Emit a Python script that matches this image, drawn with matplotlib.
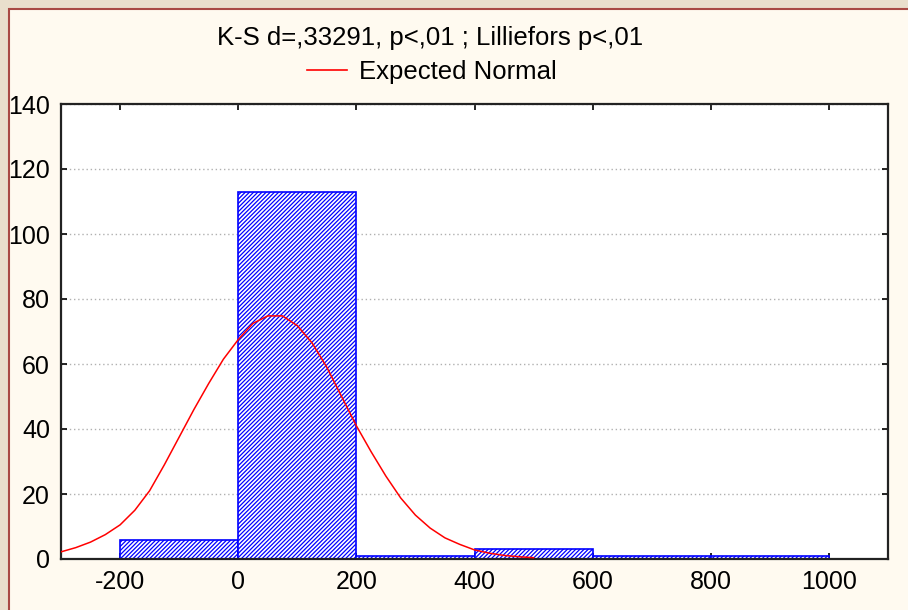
import matplotlib
matplotlib.use('Agg')
import matplotlib.pyplot as plt
from matplotlib.patches import Rectangle
from matplotlib.lines import Line2D

# histogram bins and counts
bin_left = [-200, 0, 200, 400, 600, 800]
bin_width = 200
counts = [6, 113, 1, 3, 1, 1]

# expected normal curve
curve_x = [-300, -275, -250, -225, -200, -175, -150, -125, -100, -75, -50, -25,
           0, 25, 50, 75, 100, 125, 150, 175, 200, 225, 250, 275, 300, 325,
           350, 375, 400, 425, 450, 475, 500]
curve_y = [2.2, 3.5, 5.2, 7.5, 10.5, 15, 21, 29, 37.5, 46, 54, 61.5,
           67.5, 72.5, 74.8, 74.8, 71.8, 66.5, 59, 50, 41, 33, 25.5, 18.8, 13.5, 9.5,
           6.5, 4.5, 2.8, 1.8, 1.1, 0.7, 0.4]

xticks = [-200, 0, 200, 400, 600, 800, 1000]
yticks = [0, 20, 40, 60, 80, 100, 120, 140]
title = "K-S d=,33291, p<,01 ; Lilliefors p<,01"

plt.rcParams['font.family'] = ['Liberation Sans', 'DejaVu Sans']
plt.rcParams['hatch.linewidth'] = 0.9
plt.rcParams['axes.unicode_minus'] = False

W, H = 908, 610
fig = plt.figure(figsize=(W / 100, H / 100), dpi=100)
fig.set_facecolor('#e9dfcc')

# cream panel with dark red border
fig.patches.append(Rectangle((9 / W, -0.1), 1.1, (H - 9) / H + 0.1,
                             transform=fig.transFigure, facecolor='#fffaf0',
                             edgecolor='#a84a44', linewidth=1.5, zorder=-1))

ax = fig.add_axes([61 / W, (H - 559) / H, (888 - 61) / W, (559 - 104) / H])
ax.set_zorder(2)
ax.set_facecolor('white')

ax.bar(bin_left, counts, width=bin_width, align='edge', facecolor='white',
       edgecolor='blue', hatch='////////', linewidth=1.2, zorder=2)
ax.plot(curve_x, curve_y, color='red', linewidth=1.1, zorder=3)

ax.set_xlim(-300, 1100)
ax.set_ylim(0, 140)
ax.set_xticks(xticks)
ax.set_yticks(yticks)
ax.yaxis.grid(True, linestyle=(0, (1, 2)), color='#b0b0b0', linewidth=1)
ax.set_axisbelow(True)
ax.tick_params(direction='in', length=4, width=1.2, labelsize=18,
               top=True, right=True, pad=8)
for s in ax.spines.values():
    s.set_linewidth(1.6)
    s.set_color('#222222')

fig.text(430 / W, 1 - 38 / H, title, ha='center', va='center', fontsize=18.5)
fig.legend([Line2D([], [], color='red', linewidth=1.2)], ['Expected Normal'],
           loc='center', bbox_to_anchor=(432 / W, 1 - 72 / H), frameon=False,
           fontsize=18.5, handlelength=1.55, handletextpad=0.5)

fig.savefig('out.png', dpi=100, facecolor=fig.get_facecolor())
